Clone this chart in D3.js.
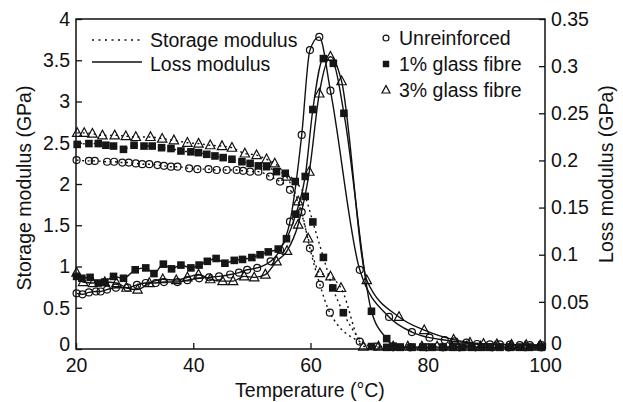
<!DOCTYPE html>
<html><head><meta charset="utf-8">
<script src="https://cdn.jsdelivr.net/npm/d3@7"></script>
<style>
body{margin:0;background:#fff}
svg{display:block}
text{font-family:"Liberation Sans",Arial,Helvetica,sans-serif;font-size:19.5px;fill:#111}
</style>
</head><body>
<svg id="c" width="623" height="402"></svg>
<script>
// ---------- data ----------
const xTicks = [20, 40, 60, 80, 100];
const leftTicks = [0, 0.5, 1, 1.5, 2, 2.5, 3, 3.5, 4];
const leftLabels = ["0", "0.5", "1", "1.5", "2", "2.5", "3", "3.5", "4"];
const rightTicks = [0, 0.05, 0.1, 0.15, 0.2, 0.25, 0.3, 0.35];
const rightLabels = ["0", "0.05", "0.1", "0.15", "0.2", "0.25", "0.3", "0.35"];
const materials = ["Unreinforced", "1% glass fibre", "3% glass fibre"];
const moduli = ["Storage modulus", "Loss modulus"];

// Storage modulus (GPa, left axis)
const unrStorageT = [20.1,22.2,23.2,25.3,26.5,27.9,29.0,30.2,31.3,32.5,33.9,35.0,36.2,37.3,39.3,40.7,42.6,44.0,45.7,47.4,48.5,49.7,51.1,53.1,54.8,56.5,58.5,59.9,61.6,63.3,68.4,71.2,74.1,77.0,79.8,82.6,85.4,88.2,91.0,93.8,96.6,99.4];
const unrStorage  = [2.29,2.28,2.28,2.27,2.27,2.26,2.26,2.25,2.24,2.24,2.23,2.22,2.21,2.21,2.19,2.18,2.18,2.17,2.17,2.17,2.16,2.15,2.15,2.09,2.03,1.93,1.66,1.22,0.78,0.44,0.09,0.03,0.02,0.02,0.02,0.02,0.02,0.02,0.02,0.02,0.02,0.02];

const gf1StorageT = [20.2,22.2,23.8,25.1,26.4,28.1,29.9,31.6,33.0,34.6,36.2,37.9,39.6,40.9,42.3,43.7,45.1,46.6,48.3,49.7,51.1,52.5,54.2,55.7,57.4,59.1,60.4,62.2,63.8,65.6,70.4,73.0,75.3,77.3,79.2,80.7,82.6,84.3,85.8,87.5,89.2,90.6,92.3,94.0,95.7,97.4,99.4];
const gf1Storage  = [2.48,2.49,2.49,2.47,2.46,2.42,2.47,2.46,2.46,2.44,2.43,2.40,2.39,2.38,2.36,2.34,2.32,2.30,2.27,2.25,2.22,2.21,2.15,2.13,2.03,1.85,1.54,1.11,0.74,0.44,0.03,0.02,0.02,0.02,0.02,0.02,0.02,0.02,0.02,0.02,0.02,0.02,0.02,0.02,0.02,0.02,0.02];

const gf3StorageT = [20.2,21.4,22.8,24.5,26.6,28.5,30.2,32.7,34.7,36.7,39.0,40.9,42.9,44.9,46.6,48.8,50.8,52.5,53.9,55.9,57.9,59.6,61.6,63.4,65.2,69.0,71.6,74.1,76.6,79.0,81.6,84.1,86.6,89.0,91.5,94.1,96.6,99.0];
const gf3Storage  = [2.62,2.62,2.61,2.59,2.59,2.58,2.57,2.57,2.55,2.53,2.50,2.49,2.47,2.46,2.44,2.37,2.35,2.30,2.25,2.09,1.79,1.34,0.92,0.88,0.74,0.03,0.03,0.03,0.03,0.03,0.03,0.03,0.03,0.03,0.03,0.03,0.03,0.03];

// Loss modulus (GPa, right axis)
const unrLossT = [20.1,21.1,22.2,23.4,24.2,25.3,26.8,28.8,30.4,31.9,33.6,35.0,37.3,39.0,41.0,42.7,44.4,46.3,47.8,49.2,50.9,53.2,54.8,56.5,58.5,59.9,61.5,63.4,68.4,73.4,77.3,80.3,82.9,84.6,86.6,88.4,90.6,92.3,94.0,95.7,97.4,99.4];
const unrLoss  = [0.059,0.058,0.060,0.061,0.061,0.063,0.065,0.065,0.068,0.070,0.070,0.071,0.071,0.073,0.075,0.076,0.077,0.079,0.081,0.084,0.086,0.093,0.105,0.135,0.227,0.317,0.331,0.274,0.084,0.034,0.018,0.012,0.0095,0.008,0.0067,0.0053,0.005,0.0048,0.0046,0.0042,0.0042,0.0042];

const gf1LossT = [20.1,21.0,22.4,23.8,24.9,26.4,28.1,30.1,31.9,33.3,34.9,36.3,37.9,39.6,41.0,42.4,43.9,45.4,47.0,48.4,50.0,51.4,52.8,54.5,55.9,57.5,59.1,60.4,62.2,63.9,65.7,70.4,73.0,74.1,75.3,77.3,79.2,80.7,82.6,84.3,85.8,87.5,89.2,90.6,92.3,94.0,95.7,97.4,99.4];
const gf1Loss  = [0.077,0.075,0.076,0.070,0.071,0.077,0.075,0.084,0.086,0.080,0.090,0.085,0.089,0.086,0.089,0.093,0.096,0.091,0.094,0.095,0.097,0.100,0.103,0.106,0.117,0.143,0.183,0.254,0.308,0.303,0.250,0.040,0.011,0.003,0.002,0.002,0.002,0.002,0.002,0.002,0.002,0.002,0.002,0.002,0.002,0.002,0.002,0.002,0.002];

const gf3LossT = [20.1,21.2,22.9,24.9,26.9,28.6,30.5,32.5,34.8,37.1,39.0,40.9,42.9,45.0,46.8,48.7,50.4,52.3,54.2,56.0,57.9,59.8,61.5,63.4,65.3,69.6,75.1,79.4,84.4,87.2,89.5,91.8,94.3,96.8,99.2];
const gf3Loss  = [0.081,0.071,0.070,0.071,0.070,0.065,0.063,0.070,0.074,0.073,0.076,0.079,0.074,0.072,0.072,0.077,0.076,0.079,0.093,0.104,0.132,0.188,0.271,0.310,0.284,0.073,0.034,0.020,0.010,0.0067,0.0055,0.005,0.0045,0.0042,0.004];

// ---------- layout ----------
const PL = 76, PR = 545, PT = 19, PB = 349;
const svg = d3.select("#c");
const x  = d3.scaleLinear().domain([20, 100]).range([PL, PR]);
const yL = d3.scaleLinear().domain([0, 4]).range([PB, PT]);
const yR = d3.scaleLinear().domain([0, 0.35]).range([PB, PT]);
const INK = "#111";

// axes (ticks inward)
const gx = svg.append("g").attr("transform", `translate(0,${PB})`)
  .call(d3.axisBottom(x).tickValues(xTicks).tickSizeInner(-6).tickSizeOuter(0).tickPadding(8.5).tickFormat(d3.format("d")));
const gl = svg.append("g").attr("transform", `translate(${PL},0)`)
  .call(d3.axisLeft(yL).tickValues(leftTicks).tickSizeInner(-6).tickSizeOuter(0).tickPadding(6).tickFormat((d,i)=>leftLabels[i]));
const gr = svg.append("g").attr("transform", `translate(${PR},0)`)
  .call(d3.axisRight(yR).tickValues(rightTicks).tickSizeInner(-6).tickSizeOuter(0).tickPadding(6).tickFormat((d,i)=>rightLabels[i]));
[gx, gl, gr].forEach(g => {
  g.select(".domain").remove();
  g.selectAll(".tick line").attr("stroke", INK).attr("stroke-width", 1.3);
  g.selectAll(".tick text").attr("fill", INK).style("font-size", "19.5px").attr("font-family", null);
});
gx.selectAll(".tick text").attr("dy", "0.72em");
// the zero labels sit slightly above the corner so they clear the temperature labels
gl.selectAll(".tick").filter(d => d === 0).select("text").attr("y", -5);
gr.selectAll(".tick").filter(d => d === 0).select("text").attr("y", -6);

// frame
svg.append("rect").attr("x", PL).attr("y", PT).attr("width", PR - PL).attr("height", PB - PT)
  .attr("fill", "none").attr("stroke", INK).attr("stroke-width", 1.5);

// axis titles
svg.append("text").attr("x", 310).attr("y", 397).attr("text-anchor", "middle").text("Temperature (°C)");
svg.append("text").attr("transform", "translate(31,188) rotate(-90)").attr("text-anchor", "middle").text("Storage modulus (GPa)");
svg.append("text").attr("transform", "translate(613,174) rotate(-90)").attr("text-anchor", "middle").text("Loss modulus (GPa)");

// ---------- series ----------
const zip = (a, b) => a.map((t, i) => [t, b[i]]);
const series = [
  {pts: zip(unrStorageT, unrStorage), y: yL, dotted: true,  mk: "circle"},
  {pts: zip(gf1StorageT, gf1Storage), y: yL, dotted: true,  mk: "square"},
  {pts: zip(gf3StorageT, gf3Storage), y: yL, dotted: true,  mk: "triangle"},
  {pts: zip(unrLossT, unrLoss),       y: yR, dotted: false, mk: "circle"},
  {pts: zip(gf1LossT, gf1Loss),       y: yR, dotted: false, mk: "square"},
  {pts: zip(gf3LossT, gf3Loss),       y: yR, dotted: false, mk: "triangle"}
];

series.forEach(s => {
  const line = d3.line().x(d => x(d[0])).y(d => s.y(d[1])).curve(d3.curveMonotoneX);
  svg.append("path").attr("d", line(s.pts)).attr("fill", "none").attr("stroke", INK)
    .attr("stroke-width", 1.4)
    .attr("stroke-dasharray", s.dotted ? "2,3.5" : null);
});

function marker(g, kind, cx, cy, scale) {
  const k = scale || 1;
  if (kind === "circle") {
    g.append("circle").attr("cx", cx).attr("cy", cy).attr("r", 3.5 * k)
      .attr("fill", "none").attr("stroke", INK).attr("stroke-width", 1.2);
  } else if (kind === "square") {
    const s = 7.6 * k;
    g.append("rect").attr("x", cx - s / 2).attr("y", cy - s / 2).attr("width", s).attr("height", s)
      .attr("fill", "#161616");
  } else {
    const h = 4.7 * k;
    g.append("path").attr("d", `M${cx},${cy - h * 1.1}L${cx + h},${cy + h * 0.75}L${cx - h},${cy + h * 0.75}Z`)
      .attr("fill", "none").attr("stroke", INK).attr("stroke-width", 1.2);
  }
}

series.forEach(s => {
  const g = svg.append("g");
  s.pts.forEach(d => marker(g, s.mk, x(d[0]), s.y(d[1])));
});

// ---------- legends ----------
const lg = svg.append("g");
lg.append("line").attr("x1", 92).attr("x2", 142).attr("y1", 40).attr("y2", 40)
  .attr("stroke", INK).attr("stroke-width", 1.3).attr("stroke-dasharray", "2,4.5");
lg.append("text").attr("x", 150).attr("y", 47).text(moduli[0]);
lg.append("line").attr("x1", 92).attr("x2", 142).attr("y1", 62).attr("y2", 62)
  .attr("stroke", INK).attr("stroke-width", 1.4);
lg.append("text").attr("x", 150).attr("y", 70.5).text(moduli[1]);

const mks = ["circle", "square", "triangle"];
const rowY = [38, 64, 90];
const baseY = [45, 71, 96.5];
materials.forEach((m, i) => {
  marker(lg, mks[i], 386, rowY[i], 0.85);
  lg.append("text").attr("x", 399).attr("y", baseY[i]).text(m);
});
</script>
</body></html>
